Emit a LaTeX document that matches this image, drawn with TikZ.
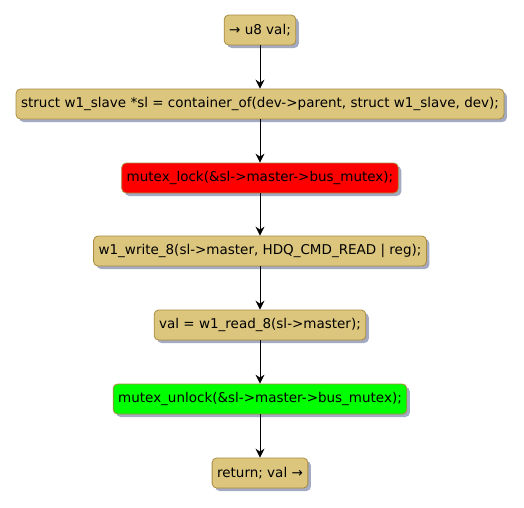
\documentclass[tikz,border=0pt]{standalone}
\usepackage{fontspec}
\setmainfont{DejaVu Sans}
\usepackage{xcolor}
\definecolor{ActBody}{HTML}{DCC67E}
\definecolor{ActLine}{HTML}{A88B3F}
\definecolor{ActShade}{HTML}{A3AAC2}
\definecolor{LockRed}{HTML}{FF0000}
\definecolor{UnlockGreen}{HTML}{00FF00}
\usepackage{tikz}
\usetikzlibrary{arrows.meta,positioning,shadows}

\begin{document}
\begin{tikzpicture}[
  x=1pt,y=-1pt,
  act/.style={draw=ActLine,line width=0.8pt,rounded corners=4.5pt,fill=ActBody,
    minimum height=30pt,inner xsep=5pt,inner ysep=0pt,font=\fontsize{13.5}{15}\selectfont,
    drop shadow={shadow xshift=3pt,shadow yshift=-3pt,fill=ActShade,opacity=1}},
  flow/.style={-{Stealth[length=9pt,width=9pt,inset=3pt]},line width=0.9pt,black}
]
  \useasboundingbox[fill=white] (0,0) rectangle (524,507);
  \node[act] (entry) at (260,30) {→ u8 val;};
  \node[act] (getsl) at (260,104) {struct w1\_slave *sl = container\_of(dev->parent, struct w1\_slave, dev);};
  \node[act,fill=LockRed] (lock) at (260,178) {mutex\_lock(\&sl->master->bus\_mutex);};
  \node[act] (write) at (260,251) {w1\_write\_8(sl->master, HDQ\_CMD\_READ | reg);};
  \node[act] (read) at (260,325) {val = w1\_read\_8(sl->master);};
  \node[act,fill=UnlockGreen] (unlock) at (260,399) {mutex\_unlock(\&sl->master->bus\_mutex);};
  \node[act] (leave) at (260,473) {return; val →};
  \draw[flow] (entry) -- (getsl);
  \draw[flow] (getsl) -- (lock);
  \draw[flow] (lock) -- (write);
  \draw[flow] (write) -- (read);
  \draw[flow] (read) -- (unlock);
  \draw[flow] (unlock) -- (leave);
\end{tikzpicture}
\end{document}
